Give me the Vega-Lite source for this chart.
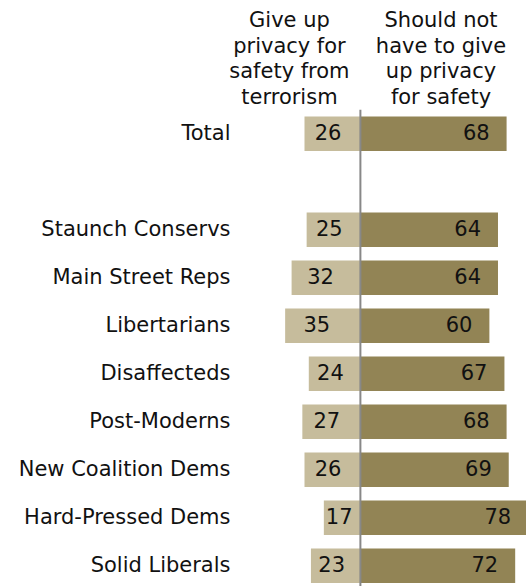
{
  "$schema": "https://vega.github.io/schema/vega-lite/v6.json",
  "autosize": {"type": "none"},
  "padding": {"left": 240, "top": 13.7, "right": 0, "bottom": 0},
  "width": 292.4,
  "height": 576,
  "background": "white",
  "config": {"view": {"stroke": null}, "font": "DejaVu Sans"},
  "data": {
    "values": [
      {"group": "Total", "give": 26, "not": 68},
      {"group": "Staunch Conservs", "give": 25, "not": 64},
      {"group": "Main Street Reps", "give": 32, "not": 64},
      {"group": "Libertarians", "give": 35, "not": 60},
      {"group": "Disaffecteds", "give": 24, "not": 67},
      {"group": "Post-Moderns", "give": 27, "not": 68},
      {"group": "New Coalition Dems", "give": 26, "not": 69},
      {"group": "Hard-Pressed Dems", "give": 17, "not": 78},
      {"group": "Solid Liberals", "give": 23, "not": 72}
    ]
  },
  "transform": [
    {"calculate": "-datum.give", "as": "give_neg"},
    {"calculate": "-datum.give * 0.58", "as": "give_lab"}
  ],
  "encoding": {
    "y": {
      "field": "group",
      "type": "nominal",
      "title": null,
      "scale": {
        "domain": ["h1", "h2", "Total", "b1", "Staunch Conservs", "Main Street Reps", "Libertarians", "Disaffecteds", "Post-Moderns", "New Coalition Dems", "Hard-Pressed Dems", "Solid Liberals"],
        "paddingInner": 0,
        "paddingOuter": 0
      },
      "axis": {
        "ticks": false,
        "domain": false,
        "labelPadding": 10,
        "labelLimit": 0,
        "labelFontSize": 21,
        "labelFont": "DejaVu Sans",
        "labelColor": "#111111",
        "labelExpr": "indexof(['h1','h2','b1'], datum.value) >= 0 ? '' : datum.value"
      }
    }
  },
  "layer": [
    {
      "mark": {"type": "bar", "height": {"band": 0.72}, "color": "#c6bc9c"},
      "encoding": {
        "x": {"field": "give_neg", "type": "quantitative", "scale": {"domain": [-56, 80], "nice": false}, "axis": null}
      }
    },
    {
      "mark": {"type": "bar", "height": {"band": 0.72}, "color": "#928455"},
      "encoding": {
        "x": {"field": "not", "type": "quantitative", "axis": null}
      }
    },
    {
      "mark": {"type": "text", "align": "center", "baseline": "middle", "fontSize": 21, "color": "#111111"},
      "encoding": {
        "x": {"field": "give_lab", "type": "quantitative", "axis": null},
        "text": {"field": "give", "type": "quantitative"}
      }
    },
    {
      "mark": {"type": "text", "align": "right", "baseline": "middle", "dx": -17, "fontSize": 21, "color": "#111111"},
      "encoding": {
        "x": {"field": "not", "type": "quantitative", "axis": null},
        "text": {"field": "not", "type": "quantitative"}
      }
    },
    {
      "data": {"values": [{}]},
      "mark": {"type": "rule", "color": "#888888", "strokeWidth": 2},
      "encoding": {
        "x": {"datum": 0, "type": "quantitative", "axis": null},
        "y": {"datum": "Total", "bandPosition": 0},
        "y2": {"datum": "Solid Liberals", "bandPosition": 1}
      }
    },
    {
      "data": {"values": [{}]},
      "mark": {"type": "text", "align": "center", "baseline": "middle", "fontSize": 21, "lineHeight": 25.5, "color": "#111111"},
      "encoding": {
        "x": {"datum": -33, "type": "quantitative", "axis": null},
        "y": {"datum": "h1", "bandPosition": 0.16},
        "text": {"value": ["Give up", "privacy for", "safety from", "terrorism"]}
      }
    },
    {
      "data": {"values": [{}]},
      "mark": {"type": "text", "align": "center", "baseline": "middle", "fontSize": 21, "lineHeight": 25.5, "color": "#111111"},
      "encoding": {
        "x": {"datum": 37.5, "type": "quantitative", "axis": null},
        "y": {"datum": "h1", "bandPosition": 0.16},
        "text": {"value": ["Should not", "have to give", "up privacy", "for safety"]}
      }
    }
  ]
}
